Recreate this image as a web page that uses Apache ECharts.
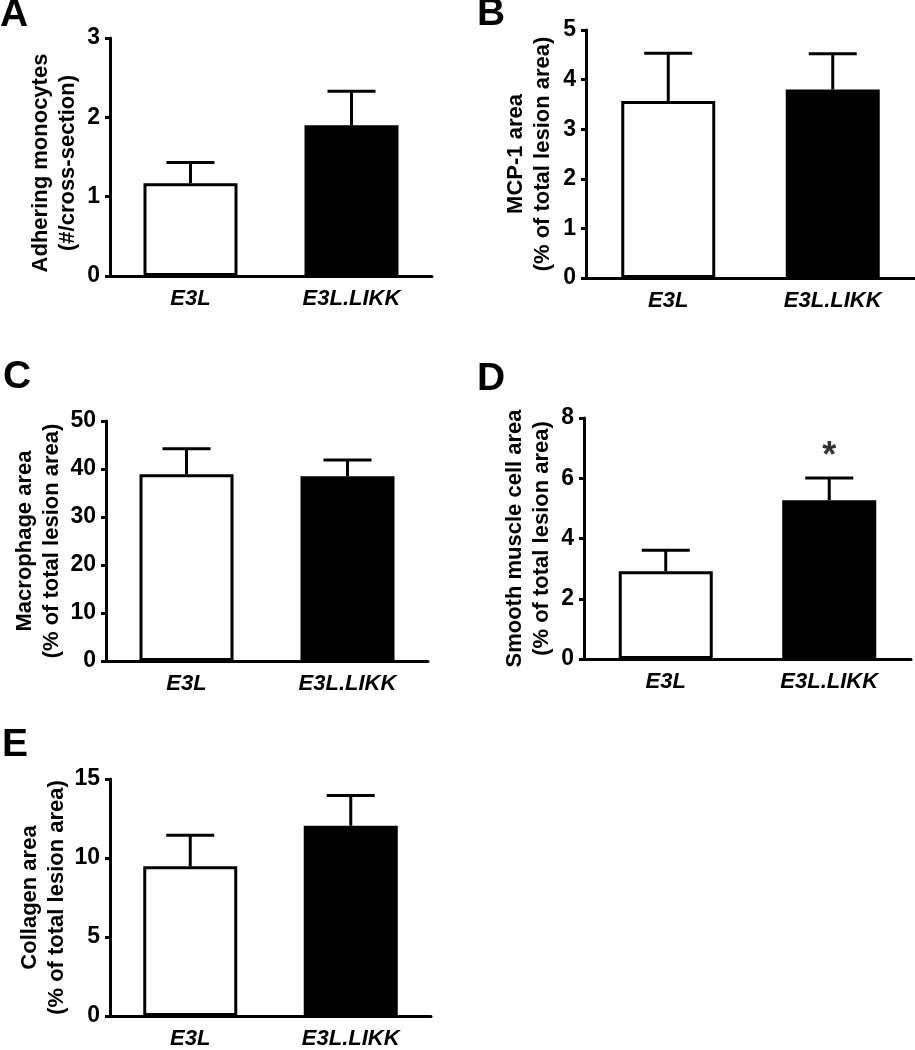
<!DOCTYPE html>
<html>
<head>
<meta charset="utf-8">
<script src="https://cdn.jsdelivr.net/npm/echarts@6/dist/echarts.min.js"></script>
<style>
html,body{margin:0;padding:0;background:#fff;}
#chart{width:915px;height:1050px;}
</style>
</head>
<body>
<div id="chart"></div>
<script>
// ---- data ----
const categories = ['E3L', 'E3L.LIKK'];
const panelLetters = ['A', 'B', 'C', 'D', 'E'];
const yTitles = [
  'Adhering monocytes\n(#/cross-section)',
  'MCP-1 area\n(% of total lesion area)',
  'Macrophage area\n(% of total lesion area)',
  'Smooth muscle cell area\n(% of total lesion area)',
  'Collagen area\n(% of total lesion area)'
];
const yMax = [3, 5, 50, 8, 15];
const yInterval = [1, 1, 10, 2, 5];
const meanA = [1.17, 1.90];   const semA = [0.26, 0.43];
const meanB = [3.57, 3.80];   const semB = [0.96, 0.72];
const meanC = [38.9, 38.5];   const semC = [5.3, 3.4];
const meanD = [2.91, 5.27];   const semD = [0.70, 0.74];
const meanE = [9.47, 12.04];  const semE = [1.97, 1.92];
const significanceD = ['', '*'];
const significanceValueD = [null, 6.7];

const means = [meanA, meanB, meanC, meanD, meanE];
const sems = [semA, semB, semC, semD, semE];

// ---- layout / style ----
const FONT = '"Liberation Sans", Arial, Helvetica, sans-serif';
const grids = [
  {left: 110, top: 38,  width: 322, height: 238},
  {left: 586, top: 30,  width: 329, height: 248},
  {left: 106, top: 421, width: 322, height: 240},
  {left: 584, top: 418, width: 327, height: 241},
  {left: 110, top: 779, width: 321, height: 241}
];
const nameGaps = [29, 29.5, 41, 28.5, 38.5];
const namePads = [[0, 12, 0, 0], 0, 0, 0, 0];
const letterPos = [[0, 16], [477, 15], [3, 378], [477, 380], [2, 746]];
const barFill = ['#ffffff', '#000000'];

const xAxes = [], yAxes = [], series = [];
grids.forEach((g, i) => {
  xAxes.push({
    type: 'category', gridIndex: i, data: categories,
    axisLine: {lineStyle: {color: '#000', width: 3}},
    axisTick: {show: false},
    axisLabel: {color: '#000', fontFamily: FONT, fontSize: 22, fontWeight: 'bold', fontStyle: 'italic', margin: 12}
  });
  yAxes.push({
    type: 'value', gridIndex: i, min: 0, max: yMax[i], interval: yInterval[i],
    name: yTitles[i], nameLocation: 'middle', nameGap: nameGaps[i],
    nameTextStyle: {color: '#000', fontFamily: FONT, fontSize: 22, fontWeight: 'bold', lineHeight: 27, padding: namePads[i]},
    axisLine: {show: true, lineStyle: {color: '#000', width: 3}},
    axisTick: {show: true, length: 5, lineStyle: {color: '#000', width: 3}},
    axisLabel: {color: '#000', fontFamily: FONT, fontSize: 23, fontWeight: 'bold', margin: 10},
    splitLine: {show: false}
  });
  series.push({
    type: 'bar', xAxisIndex: i, yAxisIndex: i, barWidth: 94,
    data: means[i].map((v, k) => ({
      value: v,
      itemStyle: {color: barFill[k], borderColor: '#000', borderWidth: 3}
    })),
    silent: true, animation: false
  });
  series.push({
    type: 'custom', xAxisIndex: i, yAxisIndex: i,
    data: means[i].map((v, k) => [k, v, sems[i][k]]),
    encode: {x: 0, y: 1},
    renderItem: function (params, api) {
      const x = api.value(0), m = api.value(1), s = api.value(2);
      const p0 = api.coord([x, m]);
      const p1 = api.coord([x, m + s]);
      const half = 24;
      const st = {stroke: '#000', lineWidth: 3};
      return {
        type: 'group',
        children: [
          {type: 'line', shape: {x1: p0[0], y1: p0[1], x2: p1[0], y2: p1[1]}, style: st},
          {type: 'line', shape: {x1: p1[0] - half, y1: p1[1], x2: p1[0] + half, y2: p1[1]}, style: st}
        ]
      };
    },
    z: 3, silent: true, animation: false
  });
});

// significance marker (panel D)
series.push({
  type: 'scatter', xAxisIndex: 3, yAxisIndex: 3, symbolSize: 1, itemStyle: {color: 'rgba(0,0,0,0)'},
  data: significanceValueD.map((v, k) => v === null ? null : [k, v]).filter(d => d),
  label: {show: true, position: 'inside', formatter: () => '*', color: '#000',
          fontFamily: FONT, fontSize: 36, fontWeight: 'bold'},
  silent: true, animation: false
});

const graphics = panelLetters.map((t, i) => ({
  type: 'text', left: letterPos[i][0], top: letterPos[i][1] - 20,
  style: {text: t, fill: '#000', font: 'bold 39px ' + FONT}
}));

const chart = echarts.init(document.getElementById('chart'), null, {renderer: 'canvas'});
chart.setOption({
  backgroundColor: '#fff',
  animation: false,
  grid: grids.map(g => Object.assign({containLabel: false}, g)),
  xAxis: xAxes,
  yAxis: yAxes,
  series: series,
  graphic: graphics
});
</script>
</body>
</html>
